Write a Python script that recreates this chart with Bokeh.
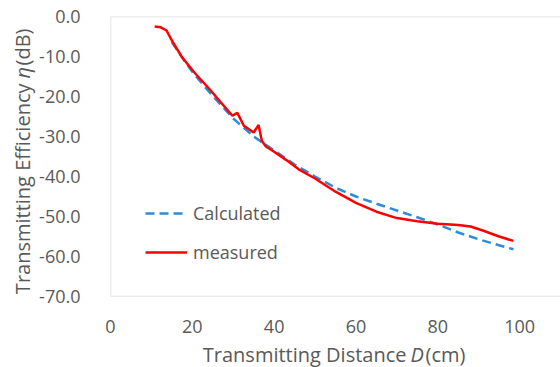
import math
from bokeh.plotting import figure
from bokeh.layouts import row, column
from bokeh.models import FixedTicker, Legend, LegendItem, Range1d, Label, Span
from bokeh.embed import file_html
from bokeh.resources import INLINE

# Calculated (blue dashed)
calc_x = [15, 18, 20, 23, 26, 30, 35, 40, 45, 50, 55, 60, 65, 70, 75, 80, 85, 90, 95, 98.5]
calc_y = [-6.4, -11.0, -13.8, -17.5, -21.0, -25.5, -30.0, -33.5, -37.0, -40.0, -42.8, -45.0,
          -46.8, -48.5, -50.2, -52.0, -54.0, -55.7, -57.2, -58.2]

# Measured (red solid)
meas_x = [10.8, 12.3, 13.7, 15.0, 17.5, 20.5, 24.5, 27.0, 29.8, 31.0, 32.6, 35.0, 36.2, 37.0,
          38.0, 40.0, 43.0, 46.0, 50.0, 55.0, 60.0, 65.0, 70.0, 75.0, 80.0, 85.0, 88.0, 91.0,
          95.0, 98.5]
meas_y = [-2.5, -2.7, -3.5, -6.0, -10.2, -14.0, -18.5, -21.5, -24.8, -24.1, -27.3, -29.0,
          -27.1, -31.1, -32.5, -33.8, -35.9, -38.2, -40.5, -43.8, -46.6, -48.8, -50.4, -51.2,
          -51.8, -52.1, -52.5, -53.5, -55.0, -56.1]

x_ticks = [0, 20, 40, 60, 80, 100]
y_ticks = [0, -10, -20, -30, -40, -50, -60, -70]
y_tick_labels = ["0.0", "-10.0", "-20.0", "-30.0", "-40.0", "-50.0", "-60.0", "-70.0"]

x_title = ["Transmitting Distance", "D", "(cm)"]
y_title = ["Transmitting Efficiency", "η", "(dB)"]

FONT = "Open Sans"
TXT = "#595959"
BORDER = "#D9D9D9"

# ---- main chart ----
p = figure(width=524, height=342, output_backend="svg", toolbar_location=None,
           x_range=Range1d(0, 110), y_range=Range1d(-70, 0),
           min_border_left=67, min_border_right=0, min_border_top=16, min_border_bottom=46)

p.xgrid.visible = False
p.ygrid.visible = False
p.outline_line_color = None
p.background_fill_color = "white"
p.border_fill_color = "white"

for ax in (p.xaxis[0], p.yaxis[0]):
    ax.axis_line_color = None
    ax.major_tick_line_color = None
    ax.minor_tick_line_color = None
    ax.major_label_text_font = FONT
    ax.major_label_text_color = TXT
    ax.major_label_text_font_size = "18px"

p.xaxis.ticker = FixedTicker(ticks=x_ticks)
p.yaxis.ticker = FixedTicker(ticks=y_ticks)
p.yaxis.major_label_overrides = {t: l for t, l in zip(y_ticks, y_tick_labels)}
p.xaxis.major_label_standoff = 17
p.yaxis.major_label_standoff = 24

# plot-area border (top, left, bottom)
p.add_layout(Span(location=y_ticks[0], dimension="width", line_color=BORDER, line_width=1.5))
p.add_layout(Span(location=y_ticks[-1], dimension="width", line_color=BORDER, line_width=1.5))
p.add_layout(Span(location=x_ticks[0], dimension="height", line_color=BORDER, line_width=1.5))

r_calc = p.line(calc_x, calc_y, line_color="#2E8BD8", line_width=2.5, line_dash="9 5")
r_meas = p.line(meas_x, meas_y, line_color="#FF0000", line_width=2.5)

legend = Legend(items=[LegendItem(label="Calculated", renderers=[r_calc]),
                       LegendItem(label="measured", renderers=[r_meas])],
                location=(35, 32), glyph_width=42, glyph_height=20, label_height=20,
                label_standoff=6, spacing=15, padding=0, margin=0,
                border_line_color=None, background_fill_alpha=0,
                label_text_font=FONT, label_text_color=TXT, label_text_font_size="18px")
p.add_layout(legend)

common = dict(x_units="screen", y_units="screen", text_font=FONT, text_color=TXT,
              text_font_size="20px")


def strip(w, h, **kw):
    s = figure(width=w, height=h, output_backend="svg", toolbar_location=None,
               x_range=Range1d(0, 1), y_range=Range1d(0, 1),
               x_axis_location=None, y_axis_location=None, **kw)
    s.xgrid.visible = False
    s.ygrid.visible = False
    s.outline_line_color = None
    return s


# ---- y-axis title strip ----
ly = strip(36, 367, min_border=0)
yx = 22
ly.add_layout(Label(x=yx, y=284, text=y_title[0], text_align="right", angle=math.pi / 2,
                    text_baseline="middle", **common))
ly.add_layout(Label(x=yx, y=289, text=y_title[1], text_align="left", angle=math.pi / 2,
                    text_font_style="italic", text_baseline="middle", **common))
ly.add_layout(Label(x=yx, y=302, text=y_title[2], text_align="left", angle=math.pi / 2,
                    text_baseline="middle", **common))

# ---- x-axis title strip (frame aligned with the main plot area) ----
bx = strip(524, 25, min_border_left=67, min_border_right=0, min_border_top=0,
           min_border_bottom=0)
xb = 13
bx.add_layout(Label(x=296, y=xb, text=x_title[0], text_align="right",
                    text_baseline="alphabetic", **common))
bx.add_layout(Label(x=300, y=xb, text=x_title[1], text_align="left", text_font_style="italic",
                    text_baseline="alphabetic", **common))
bx.add_layout(Label(x=315, y=xb, text=x_title[2], text_align="left",
                    text_baseline="alphabetic", **common))

layout = row(ly, column(p, bx, spacing=0), spacing=0)

open("out.html", "w").write(file_html(layout, INLINE))
